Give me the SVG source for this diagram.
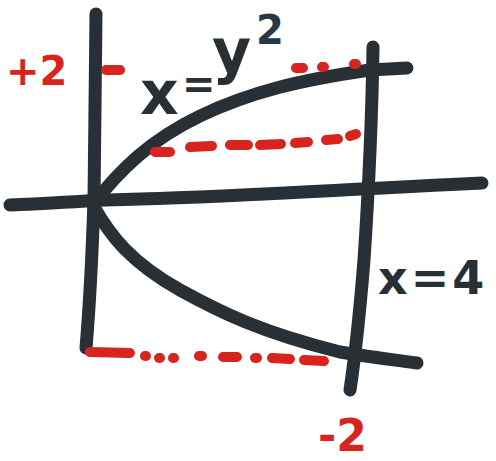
<svg xmlns="http://www.w3.org/2000/svg" width="496" height="461" viewBox="0 0 496 461">
<style>
.ax{fill:none;stroke:#283036;stroke-width:13;stroke-linecap:round;stroke-linejoin:round}
.rd{fill:none;stroke:#d8231f;stroke-width:10;stroke-linecap:round}
.lb{font-family:"DejaVu Sans",sans-serif;font-weight:bold}
.red{fill:#d8231f}
.blk{fill:#283036}
</style>
<rect width="496" height="461" fill="#ffffff"/>
<g id="connectors">
<path class="ax" d="M96,14 C95,60 95,120 94,200 C92,260 90,300 86,348"/>
<path class="ax" d="M10,205 C60,203 90,200 140,199 C250,196 330,190 482,183"/>
<path class="ax" d="M373,47 C372,120 368,200 364,260 C360,310 356,350 350,390"/>
<path class="ax" d="M94,203 C120,170 150,140 200,116 C250,92 300,80 370,70 L407,68"/>
<path class="ax" d="M94,207 C110,235 130,262 180,290 C220,312 260,332 340,352 C370,357 395,360 417,363"/>
</g>
<g id="guides">
<path class="rd" d="M106,70 L120,70"/>
<path class="rd" d="M296,68 L303,68 M322,67 L324,67 M354,64 L356,64"/>
<path class="rd" d="M155,152 L170,152 M190,147 L212,146 M230,145 L248,145 M260,145 L281,144 M295,143 L308,142 M326,140 L338,139 M350,136 L356,134"/>
<path class="rd" d="M90,352 L130,353 M145,356 L146,356 M159,358 L160,358 M173,358 L174,358 M199,356 L202,356 M223,357 L237,357 M255,358 L257,358 M272,358 L290,359 M304,360 L324,361"/>
</g>
<g id="label-plus2"><text class="lb red" x="6" y="85" font-size="40">+2</text></g>
<g id="label-curve"><text class="lb blk" font-size="60"><tspan x="140" y="114">x</tspan><tspan x="182" y="98" font-size="40">=</tspan><tspan x="212" y="72">y</tspan></text><text class="lb" x="256" y="44" font-size="40" fill="#27384a">2</text></g>
<g id="label-x4"><text class="lb blk" x="378" y="294" font-size="46" letter-spacing="3">x=4</text></g>
<g id="label-minus2"><text class="lb red" x="318" y="451" font-size="44">-2</text></g>
</svg>
